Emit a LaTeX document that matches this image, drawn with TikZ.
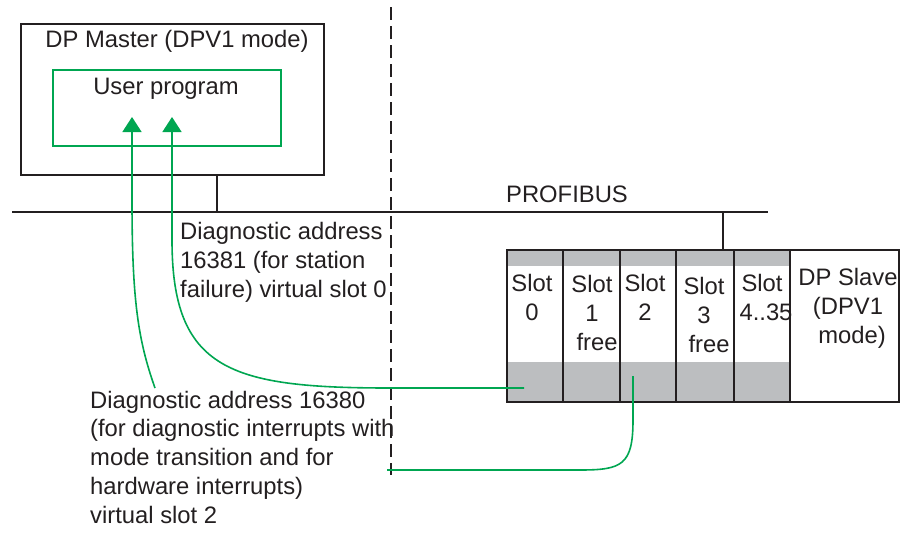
\documentclass[tikz,border=0pt]{standalone}
\usepackage{fontspec}
\setmainfont{Liberation Sans}
\usetikzlibrary{arrows.meta}
\definecolor{txt}{HTML}{231F20}
\definecolor{grn}{HTML}{00A651}
\definecolor{slotgray}{HTML}{BCBEC0}
\tikzset{
  lbl/.style={inner sep=0pt, text=txt, font=\fontsize{23.8}{28.7}\selectfont},
  blk/.style={draw=txt, line width=1.5pt},
  cell/.style={draw=txt, line width=1.5pt, inner sep=0pt, minimum height=152pt, anchor=north west},
  garrow/.style={draw=grn, line width=1.6pt, -{Triangle[length=15pt,width=19pt]}},
  gline/.style={draw=grn, line width=1.6pt},
}
\begin{document}
\begin{tikzpicture}[x=1pt,y=-1pt]
\useasboundingbox (0,0) rectangle (900,533);
% master
\node[blk, inner sep=0pt, minimum width=303pt, minimum height=151pt, anchor=north west] (master) at (20,23) {};
\node[lbl, anchor=base] (mastert) at (177,47) {DP Master (DPV1 mode)};
\node[draw=grn, line width=1.5pt, inner sep=0pt, minimum width=228pt, minimum height=76pt, anchor=north west] (user) at (52,69) {};
\node[lbl, anchor=base] (usert) at (166,94) {User program};
% bus
\coordinate (busL) at (12,212);
\coordinate (busR) at (768,212);
\coordinate (busM) at (217,212);
\coordinate (busS) at (723,212);
\draw[blk] (busL) -- (busR);
\draw[blk] (busM |- master.south) -- (busM);
\node[lbl, anchor=base] (profibus) at (567,202) {PROFIBUS};
% slots gray strips
\fill[slotgray] (506,249) rectangle (789,266);
\fill[slotgray] (506,362) rectangle (789,401);
\node[cell, minimum width=56pt] (s0) at (506,249) {};
\node[cell, minimum width=57pt] (s1) at (562,249) {};
\node[cell, minimum width=56pt] (s2) at (619,249) {};
\node[cell, minimum width=58pt] (s3) at (675,249) {};
\node[cell, minimum width=56pt] (s4) at (733,249) {};
\node[cell, minimum width=109pt] (slave) at (789,249) {};
\draw[blk] (busS) -- (busS |- s3.north);
% (base anchor of a multi-line node = baseline of its last line)
\node[lbl, align=center, anchor=base] (t0) at (532,320) {Slot\\0};
\node[lbl, align=center, anchor=base] (t1) at (592,350) {Slot\\1\\\hspace*{10pt}free};
\node[lbl, align=center, anchor=base] (t2) at (645,320) {Slot\\2};
\node[lbl, align=center, anchor=base] (t3) at (704,352) {Slot\\3\\\hspace*{10pt}free};
\node[lbl, align=center, anchor=base] (t4) at (762,320) {Slot\\\hspace*{8pt}4..35};
\node[lbl, align=center, anchor=base] (tslave) at (848,343) {DP Slave\\(DPV1\\\hspace*{8pt}mode)};
% dashed separator
\coordinate (dashT) at (391,7);
\coordinate (dashB) at (391,475);
\draw[draw=txt, line width=1.5pt, dash pattern=on 13pt off 6pt] (dashT) -- (dashB);
% labels
\node[lbl, align=left, anchor=base west] (d1) at (180,297) {Diagnostic address\\16381 (for station\\failure) virtual slot 0};
\node[lbl, align=left, anchor=base west] (d2) at (90,523) {Diagnostic address 16380\\(for diagnostic interrupts with\\mode transition and for\\hardware interrupts)\\virtual slot 2};
% green connectors
\coordinate (tipA) at (132,117);
\coordinate (tipB) at (172,117);
\coordinate (endA) at (155,388);
\coordinate (p0) at (524,388);
\coordinate (p2) at (633,376);
\coordinate (endC) at (387,470);
\draw[garrow] (endA) .. controls (138,340) and (132,300) .. (132,200) -- (tipA);
\draw[garrow] (p0) -- (390,388) .. controls (230,388) and (172,370) .. (172,240) -- (tipB);
\draw[gline] (p2) -- (633,420) .. controls (633,465) and (622,470) .. (580,470) -- (endC);
\end{tikzpicture}
\end{document}
